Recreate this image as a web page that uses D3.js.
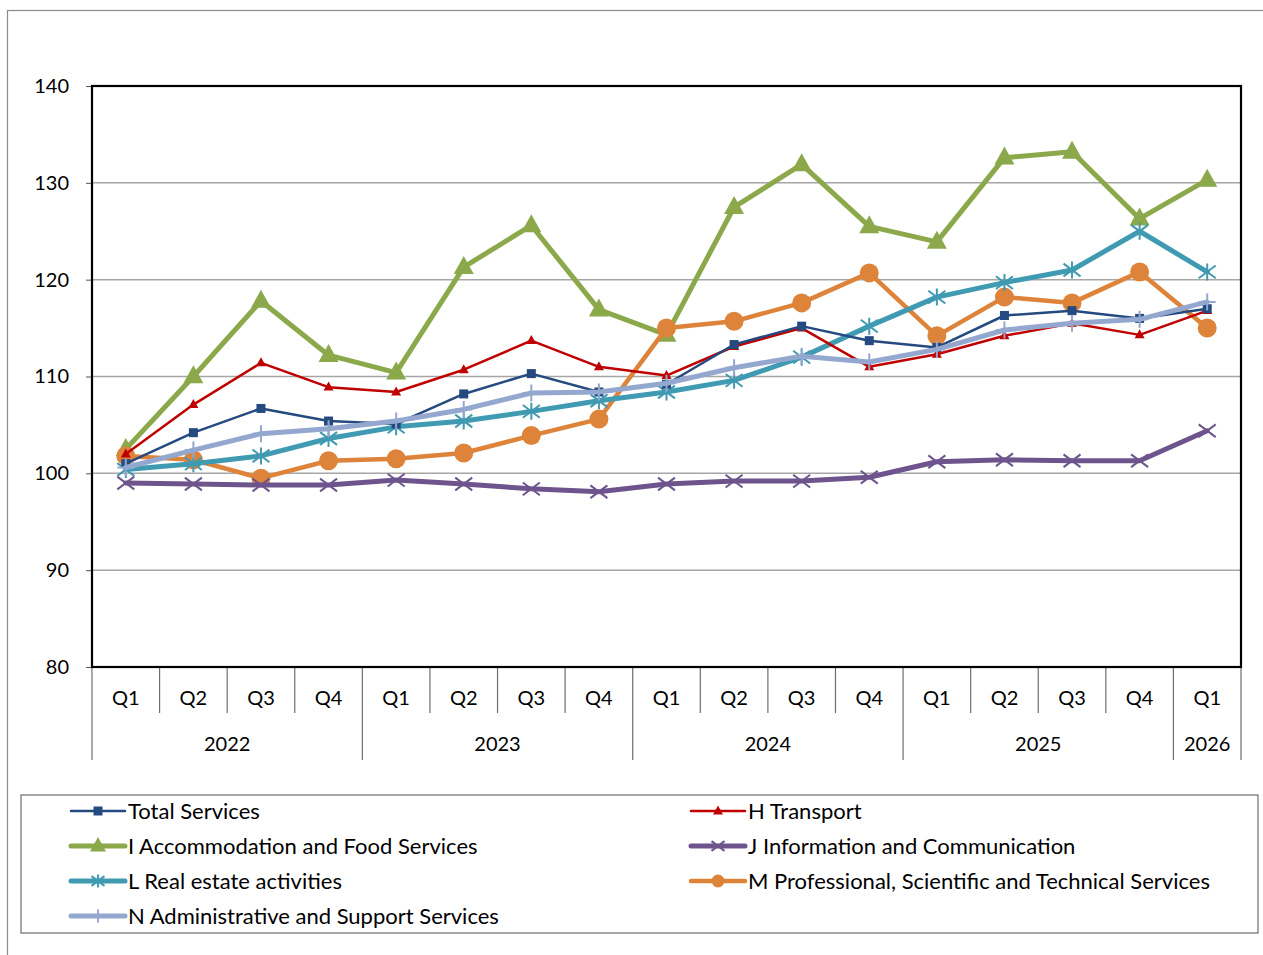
<!DOCTYPE html>
<html>
<head>
<meta charset="utf-8">
<script src="https://cdn.jsdelivr.net/npm/d3@7"></script>
<style>
  html, body { margin: 0; padding: 0; background: #fff; }
  svg { display: block; }
  text { font-family: Lato, "Open Sans", sans-serif; fill: #000; }
</style>
</head>
<body>
<svg id="chart" width="1263" height="955"></svg>
<script>
// ---- data ----
const quarters = ["Q1","Q2","Q3","Q4","Q1","Q2","Q3","Q4","Q1","Q2","Q3","Q4","Q1","Q2","Q3","Q4","Q1"];
const years = [
  { label: "2022", start: 0, end: 4 },
  { label: "2023", start: 4, end: 8 },
  { label: "2024", start: 8, end: 12 },
  { label: "2025", start: 12, end: 16 },
  { label: "2026", start: 16, end: 17 }
];
const yTicks = [80, 90, 100, 110, 120, 130, 140];

const totalServices = [101.0, 104.2, 106.7, 105.4, 105.1, 108.2, 110.3, 108.4, 109.2, 113.3, 115.2, 113.7, 113.0, 116.3, 116.8, 116.0, 117.0];
const hTransport    = [102.0, 107.1, 111.4, 108.9, 108.4, 110.7, 113.7, 111.0, 110.1, 113.1, 115.0, 111.0, 112.3, 114.2, 115.5, 114.3, 116.8];
const iAccommodation= [102.5, 110.0, 117.8, 112.2, 110.4, 121.3, 125.6, 116.9, 114.3, 127.5, 131.9, 125.5, 123.9, 132.6, 133.2, 126.3, 130.3];
const jInformation  = [99.0, 98.9, 98.8, 98.8, 99.3, 98.9, 98.4, 98.1, 98.9, 99.2, 99.2, 99.6, 101.2, 101.4, 101.3, 101.3, 104.4];
const lRealEstate   = [100.4, 101.0, 101.8, 103.6, 104.8, 105.4, 106.4, 107.5, 108.4, 109.6, 112.0, 115.2, 118.2, 119.7, 121.0, 125.0, 120.8];
const mProfessional = [101.8, 101.4, 99.5, 101.3, 101.5, 102.1, 103.9, 105.6, 115.0, 115.7, 117.6, 120.7, 114.2, 118.2, 117.6, 120.8, 115.0];
const nAdministrative=[100.6, 102.4, 104.1, 104.6, 105.4, 106.6, 108.3, 108.4, 109.3, 110.9, 112.1, 111.5, 112.8, 114.8, 115.5, 115.9, 117.7];

const seriesNames = [
  "Total Services", "H Transport", "I Accommodation and Food Services",
  "J Information and Communication", "L Real estate activities",
  "M Professional, Scientific and Technical Services",
  "N Administrative and Support Services"
];
const seriesValues = [totalServices, hTransport, iAccommodation, jInformation, lRealEstate, mProfessional, nAdministrative];

// ---- styles (kept separate from data) ----
const styles = [
  { color: "#244A80", width: 2.5, marker: "square", size: 9 },
  { color: "#C00000", width: 2.5, marker: "triangle", size: 10 },
  { color: "#8BA84B", width: 5,   marker: "triangle", size: 20 },
  { color: "#6E548D", width: 5,   marker: "x", size: 17 },
  { color: "#3F9AB2", width: 5,   marker: "asterisk", size: 17 },
  { color: "#DD843A", width: 4.5, marker: "circle", size: 19 },
  { color: "#94A8CF", width: 5,   marker: "plus", size: 17 }
];
const drawOrder = [2, 5, 4, 3, 1, 0, 6];

const svg = d3.select("#chart");

// outer frame
svg.append("rect").attr("x", 7.5).attr("y", 10.5).attr("width", 1400).attr("height", 1100)
  .attr("fill", "none").attr("stroke", "#8c8c8c").attr("stroke-width", 1.2);

const plot = { left: 92, right: 1241, top: 86, bottom: 667 };

const x = d3.scaleBand().domain(d3.range(quarters.length)).range([plot.left, plot.right]).padding(0);
const y = d3.scaleLinear().domain([80, 140]).range([plot.bottom, plot.top]);

// gridlines
svg.append("g").selectAll("line").data(yTicks.filter(v => v !== 80 && v !== 140)).join("line")
  .attr("x1", plot.left).attr("x2", plot.right)
  .attr("y1", d => y(d)).attr("y2", d => y(d))
  .attr("stroke", "#a6a6a6").attr("stroke-width", 1.5);

// y axis
const yAxis = d3.axisLeft(y).tickValues(yTicks).tickSize(6).tickPadding(17).tickFormat(d3.format("d"));
const yg = svg.append("g").attr("transform", `translate(${plot.left},0)`).call(yAxis);
yg.select(".domain").remove();
yg.selectAll(".tick line").attr("stroke", "#555").attr("stroke-width", 1);
yg.selectAll(".tick text").style("font-family", "Lato, 'Open Sans', sans-serif").style("font-size", "20px").attr("fill", "#000");

// x axis (category + year grouping)
const xg = svg.append("g");
const bounds = d3.range(quarters.length + 1);
const yearBounds = new Set(years.flatMap(yr => [yr.start, yr.end]));
xg.selectAll("line.sep").data(bounds).join("line").attr("class", "sep")
  .attr("x1", i => i < quarters.length ? x(i) : x.range()[1])
  .attr("x2", i => i < quarters.length ? x(i) : x.range()[1])
  .attr("y1", plot.bottom)
  .attr("y2", i => yearBounds.has(i) ? 760 : 713)
  .attr("stroke", "#6e6e6e").attr("stroke-width", 1.2);
xg.selectAll("text.q").data(quarters).join("text").attr("class", "q")
  .attr("x", (d, i) => x(i) + x.bandwidth() / 2).attr("y", 705)
  .attr("text-anchor", "middle").style("font-size", "20px").text(d => d);
xg.selectAll("text.yr").data(years).join("text").attr("class", "yr")
  .attr("x", d => (x(d.start) + (d.end < quarters.length ? x(d.end) : x.range()[1])) / 2)
  .attr("y", 751).attr("text-anchor", "middle").style("font-size", "20px").text(d => d.label);

// marker drawing helper
function drawMarker(g, type, cx, cy, s, color) {
  const h = s / 2;
  if (type === "square") {
    g.append("rect").attr("x", cx - h).attr("y", cy - h).attr("width", s).attr("height", s).attr("fill", color);
  } else if (type === "triangle") {
    const th = s * 0.9;
    g.append("path").attr("d", `M${cx},${cy - th * 0.62}L${cx + h},${cy + th * 0.38}L${cx - h},${cy + th * 0.38}Z`).attr("fill", color);
  } else if (type === "circle") {
    g.append("circle").attr("cx", cx).attr("cy", cy).attr("r", h).attr("fill", color);
  } else if (type === "x") {
    g.append("path").attr("d", `M${cx - h},${cy - h * 0.75}L${cx + h},${cy + h * 0.75}M${cx - h},${cy + h * 0.75}L${cx + h},${cy - h * 0.75}`)
      .attr("stroke", color).attr("stroke-width", 2).attr("fill", "none");
  } else if (type === "asterisk") {
    g.append("path").attr("d", `M${cx - h},${cy - h * 0.75}L${cx + h},${cy + h * 0.75}M${cx - h},${cy + h * 0.75}L${cx + h},${cy - h * 0.75}M${cx},${cy - h}L${cx},${cy + h}`)
      .attr("stroke", color).attr("stroke-width", 2).attr("fill", "none");
  } else if (type === "plus") {
    g.append("path").attr("d", `M${cx - h},${cy}L${cx + h},${cy}M${cx},${cy - h}L${cx},${cy + h}`)
      .attr("stroke", color).attr("stroke-width", 2).attr("fill", "none");
  }
}

// series
const line = d3.line().x((d, i) => x(i) + x.bandwidth() / 2).y(d => y(d));
const seriesG = svg.append("g");
drawOrder.forEach(si => {
  const st = styles[si];
  const g = seriesG.append("g");
  g.append("path").datum(seriesValues[si]).attr("d", line)
    .attr("fill", "none").attr("stroke", st.color).attr("stroke-width", st.width)
    .attr("stroke-linejoin", "round").attr("stroke-linecap", "round");
  seriesValues[si].forEach((v, i) => drawMarker(g, st.marker, x(i) + x.bandwidth() / 2, y(v), st.size, st.color));
});

// plot frame
svg.append("rect").attr("x", plot.left).attr("y", plot.top)
  .attr("width", plot.right - plot.left).attr("height", plot.bottom - plot.top)
  .attr("fill", "none").attr("stroke", "#000").attr("stroke-width", 2.2);

// legend
svg.append("rect").attr("x", 21).attr("y", 795).attr("width", 1237).attr("height", 138)
  .attr("fill", "none").attr("stroke", "#6e6e6e").attr("stroke-width", 1.2);
const legCols = [71, 691];
const legRows = [811, 846, 881, 916];
seriesNames.forEach((name, i) => {
  const st = styles[i];
  const lx = legCols[i % 2], ly = legRows[Math.floor(i / 2)];
  const g = svg.append("g");
  g.append("line").attr("x1", lx).attr("x2", lx + 54).attr("y1", ly).attr("y2", ly)
    .attr("stroke", st.color).attr("stroke-width", st.width).attr("stroke-linecap", "round");
  const ms = st.marker === "triangle" && st.size > 12 ? 16 : (st.size > 12 ? 13 : st.size);
  drawMarker(g, st.marker, lx + 27, ly, ms, st.color);
  g.append("text").attr("x", lx + 57).attr("y", ly + 7.5).style("font-size", "22px").text(name);
});
</script>
</body>
</html>
